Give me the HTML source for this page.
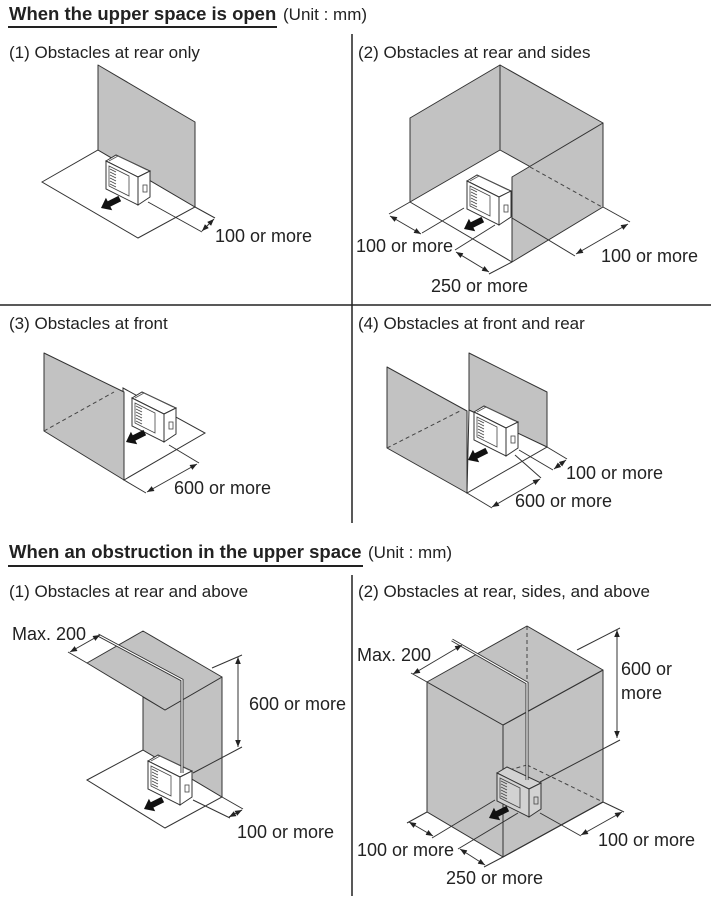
<!DOCTYPE html>
<html><head><meta charset="utf-8"><style>
html,body{margin:0;padding:0;background:#fff;}
svg{display:block;}
text{font-family:"Liberation Sans",Arial,sans-serif;fill:#222;}
.t{font-size:17px;}
.d{font-size:18px;}
.h{font-size:18.5px;font-weight:bold;}
.g{fill:#c2c2c2;stroke:#333;stroke-width:1;stroke-linejoin:round;}
.l{fill:none;stroke:#333;stroke-width:1;}
.ds{fill:none;stroke:#444;stroke-width:1;stroke-dasharray:4,3;}
.fl{fill:#fff;stroke:#333;stroke-width:1;}
</style></head><body>
<svg width="711" height="900" viewBox="0 0 711 900" xmlns="http://www.w3.org/2000/svg">
<defs>
  <marker id="a" viewBox="0 0 10 10" refX="10" refY="5" markerWidth="7" markerHeight="7" orient="auto-start-reverse">
    <path d="M0,1 L10,5 L0,9 z" fill="#222"/>
  </marker>
  <g id="unit">
    <polygon points="0,6 10,0 44,16 32,22" fill="#fff" stroke="#333" stroke-width="1"/>
    <polyline points="3,6 12,1 41,15" fill="none" stroke="#555" stroke-width="0.8"/>
    <polygon points="0,6 32,22 32,50 0,34" fill="#fff" stroke="#333" stroke-width="1"/>
    <polygon points="32,22 44,16 44,42 32,50" fill="#fff" stroke="#333" stroke-width="1"/>
    <polygon points="3,11 23,21 23,41 3,31" fill="none" stroke="#444" stroke-width="0.8"/>
    <path d="M4,14 L10,17 M4,17 L10,20 M4,20 L10,23 M4,23 L10,26 M4,26 L10,29 M4,29 L10,32" stroke="#444" stroke-width="0.8"/>
    <rect x="37" y="30" width="4" height="7" fill="none" stroke="#444" stroke-width="0.8"/>
  </g>
  <g id="unitg">
    <polygon points="0,6 10,0 44,16 32,22" fill="#d2d2d2" stroke="#333" stroke-width="1"/>
    <polygon points="0,6 32,22 32,50 0,34" fill="#d2d2d2" stroke="#333" stroke-width="1"/>
    <polygon points="32,22 44,16 44,42 32,50" fill="#d2d2d2" stroke="#333" stroke-width="1"/>
    <polygon points="3,11 23,21 23,41 3,31" fill="none" stroke="#444" stroke-width="0.8"/>
    <path d="M4,14 L10,17 M4,17 L10,20 M4,20 L10,23 M4,23 L10,26 M4,26 L10,29 M4,29 L10,32" stroke="#444" stroke-width="0.8"/>
    <rect x="37" y="30" width="4" height="7" fill="none" stroke="#444" stroke-width="0.8"/>
  </g>
  <polygon id="arr" points="0,0 9,-7 9,-3 21,-3 21,3 9,3 9,7" fill="#111" transform="rotate(-26.57)"/>
</defs>

<!-- Headings -->
<text x="9" y="20" class="h">When the upper space is open</text>
<text x="283" y="20" class="t">(Unit : mm)</text>
<line x1="8" y1="27" x2="277" y2="27" stroke="#222" stroke-width="2"/>
<line x1="352" y1="34" x2="352" y2="523" stroke="#222" stroke-width="1.5"/>
<line x1="0" y1="305" x2="711" y2="305" stroke="#222" stroke-width="1.5"/>

<text x="9" y="558" class="h">When an obstruction in the upper space</text>
<text x="368" y="558" class="t">(Unit : mm)</text>
<line x1="8" y1="566" x2="363" y2="566" stroke="#222" stroke-width="2"/>
<line x1="352" y1="575" x2="352" y2="896" stroke="#222" stroke-width="1.5"/>

<!-- Panel 1 -->
<text x="9" y="58" class="t">(1) Obstacles at rear only</text>
<polygon class="fl" points="42,182 98,150 195,207 138,238"/>
<polygon class="g" points="98,65 195,122 195,207 98,150"/>
<use href="#unit" x="106" y="155"/>
<use href="#arr" x="101" y="208"/>
<line class="l" x1="195" y1="207" x2="215" y2="218"/>
<line class="l" x1="148" y1="202" x2="202" y2="232"/>
<line class="l" x1="202" y1="231" x2="214" y2="219" marker-start="url(#a)" marker-end="url(#a)"/>
<text x="215" y="242" class="d">100 or more</text>

<!-- Panel 2 -->
<text x="358" y="58" class="t">(2) Obstacles at rear and sides</text>
<polygon class="g" points="410,118 500,65 500,150 410,202"/>
<polygon class="g" points="500,65 603,123 603,207 500,150"/>
<line class="l" x1="410" y1="202" x2="512" y2="262"/>
<use href="#unit" x="467" y="175"/>
<use href="#arr" x="464" y="229"/>
<polygon class="g" points="512,177 603,123 603,207 512,262"/>
<line class="ds" x1="530" y1="167" x2="602" y2="207"/>
<line class="l" x1="410" y1="202" x2="389" y2="214"/>
<line class="l" x1="464" y1="208" x2="422" y2="233"/>
<line class="l" x1="390" y1="216" x2="421" y2="234" marker-start="url(#a)" marker-end="url(#a)"/>
<line class="l" x1="495" y1="225" x2="455" y2="250"/>
<line class="l" x1="512" y1="262" x2="489" y2="274"/>
<line class="l" x1="456" y1="252" x2="489" y2="272" marker-start="url(#a)" marker-end="url(#a)"/>
<line class="l" x1="603" y1="207" x2="630" y2="222"/>
<line class="l" x1="512" y1="218" x2="575" y2="256"/>
<line class="l" x1="628" y1="224" x2="576" y2="254" marker-start="url(#a)" marker-end="url(#a)"/>
<text x="356" y="252" class="d">100 or more</text>
<text x="431" y="292" class="d">250 or more</text>
<text x="601" y="262" class="d">100 or more</text>

<!-- Panel 3 -->
<text x="9" y="329" class="t">(3) Obstacles at front</text>
<polygon class="fl" points="123,388 205,433 124,480"/>
<use href="#unit" x="132" y="392"/>
<use href="#arr" x="126" y="442"/>
<polygon class="g" points="44,353 124,392 124,480 44,431"/>
<line class="ds" x1="44" y1="431" x2="114" y2="392"/>
<line class="l" x1="124" y1="480" x2="146" y2="493"/>
<line class="l" x1="169" y1="445" x2="199" y2="463"/>
<line class="l" x1="147" y1="492" x2="197" y2="464" marker-start="url(#a)" marker-end="url(#a)"/>
<text x="174" y="494" class="d">600 or more</text>

<!-- Panel 4 -->
<text x="358" y="329" class="t">(4) Obstacles at front and rear</text>
<polygon class="g" points="469,353 547,392 547,447 469,410"/>
<polygon class="fl" points="469,410 547,447 467,493"/>
<use href="#unit" x="474" y="406"/>
<use href="#arr" x="468" y="460"/>
<polygon class="g" points="387,367 467,411 467,493 387,448"/>
<line class="ds" x1="387" y1="448" x2="460" y2="411"/>
<line class="l" x1="547" y1="447" x2="567" y2="459"/>
<line class="l" x1="519" y1="450" x2="553" y2="470"/>
<line class="l" x1="554" y1="469" x2="566" y2="460" marker-start="url(#a)" marker-end="url(#a)"/>
<line class="l" x1="467" y1="493" x2="492" y2="508"/>
<line class="l" x1="515" y1="455" x2="541" y2="478"/>
<line class="l" x1="492" y1="507" x2="540" y2="479" marker-start="url(#a)" marker-end="url(#a)"/>
<text x="566" y="479" class="d">100 or more</text>
<text x="515" y="507" class="d">600 or more</text>

<!-- Bottom-left -->
<text x="9" y="597" class="t">(1) Obstacles at rear and above</text>
<polygon class="fl" points="87,780 143,750 222,797 165,828"/>
<polygon class="g" points="143,697 165,710 222,677 222,797 143,750"/>
<polygon class="g" points="87,663 143,631 222,677 165,710"/>
<use href="#unit" x="148" y="755"/>
<use href="#arr" x="144" y="809"/>
<polyline points="98,635 182,680 182,773" fill="none" stroke="#333" stroke-width="3"/>
<polyline points="98,635 182,680 182,773" fill="none" stroke="#fff" stroke-width="1.2"/>
<line class="l" x1="87" y1="663" x2="68" y2="652"/>
<line class="l" x1="70" y1="652" x2="100" y2="635" marker-start="url(#a)" marker-end="url(#a)"/>
<line class="l" x1="212" y1="668" x2="242" y2="655"/>
<line class="l" x1="193" y1="773" x2="242" y2="747"/>
<line class="l" x1="238" y1="657" x2="238" y2="747" marker-start="url(#a)" marker-end="url(#a)"/>
<text x="249" y="710" class="d">600 or more</text>
<text x="12" y="640" class="d">Max. 200</text>
<line class="l" x1="222" y1="797" x2="243" y2="809"/>
<line class="l" x1="193" y1="800" x2="230" y2="818"/>
<line class="l" x1="229" y1="817" x2="242" y2="810" marker-start="url(#a)" marker-end="url(#a)"/>
<text x="237" y="838" class="d">100 or more</text>

<!-- Bottom-right -->
<text x="358" y="597" class="t">(2) Obstacles at rear, sides, and above</text>
<polygon class="g" points="427,682 503,725 503,857 427,812"/>
<polygon class="g" points="503,725 603,670 603,802 503,857"/>
<polygon class="g" points="427,682 527,626 603,670 503,725"/>
<line class="ds" x1="527" y1="626" x2="527" y2="765"/>
<line class="ds" x1="527" y1="765" x2="603" y2="802"/>
<line class="ds" x1="527" y1="765" x2="502" y2="772"/>
<polygon points="427,812 503,857 503,870 400,870 400,812" fill="#fff"/>
<line class="l" x1="427" y1="812" x2="503" y2="857"/>
<line class="l" x1="503" y1="725" x2="503" y2="857"/>
<line class="l" x1="503" y1="857" x2="603" y2="802"/>
<use href="#unitg" x="497" y="767"/>
<use href="#arr" x="489" y="818"/>
<polyline points="452,640 527,683 527,780" fill="none" stroke="#333" stroke-width="3"/>
<polyline points="452,640 527,683 527,780" fill="none" stroke="#fff" stroke-width="1.2"/>
<line class="l" x1="427" y1="682" x2="411" y2="673"/>
<line class="l" x1="413" y1="674" x2="462" y2="645" marker-start="url(#a)" marker-end="url(#a)"/>
<text x="357" y="661" class="d">Max. 200</text>
<line class="l" x1="577" y1="650" x2="620" y2="628"/>
<line class="l" x1="540" y1="782" x2="620" y2="740"/>
<line class="l" x1="617" y1="630" x2="617" y2="738" marker-start="url(#a)" marker-end="url(#a)"/>
<text x="621" y="675" class="d">600 or</text>
<text x="621" y="699" class="d">more</text>
<line class="l" x1="427" y1="812" x2="407" y2="823"/>
<line class="l" x1="495" y1="800" x2="432" y2="838"/>
<line class="l" x1="409" y1="822" x2="433" y2="836" marker-start="url(#a)" marker-end="url(#a)"/>
<line class="l" x1="518" y1="813" x2="458" y2="849"/>
<line class="l" x1="503" y1="857" x2="484" y2="867"/>
<line class="l" x1="460" y1="849" x2="485" y2="865" marker-start="url(#a)" marker-end="url(#a)"/>
<line class="l" x1="603" y1="802" x2="624" y2="812"/>
<line class="l" x1="540" y1="813" x2="581" y2="836"/>
<line class="l" x1="622" y1="812" x2="581" y2="835" marker-start="url(#a)" marker-end="url(#a)"/>
<text x="357" y="856" class="d">100 or more</text>
<text x="446" y="884" class="d">250 or more</text>
<text x="598" y="846" class="d">100 or more</text>
</svg>
</body></html>
